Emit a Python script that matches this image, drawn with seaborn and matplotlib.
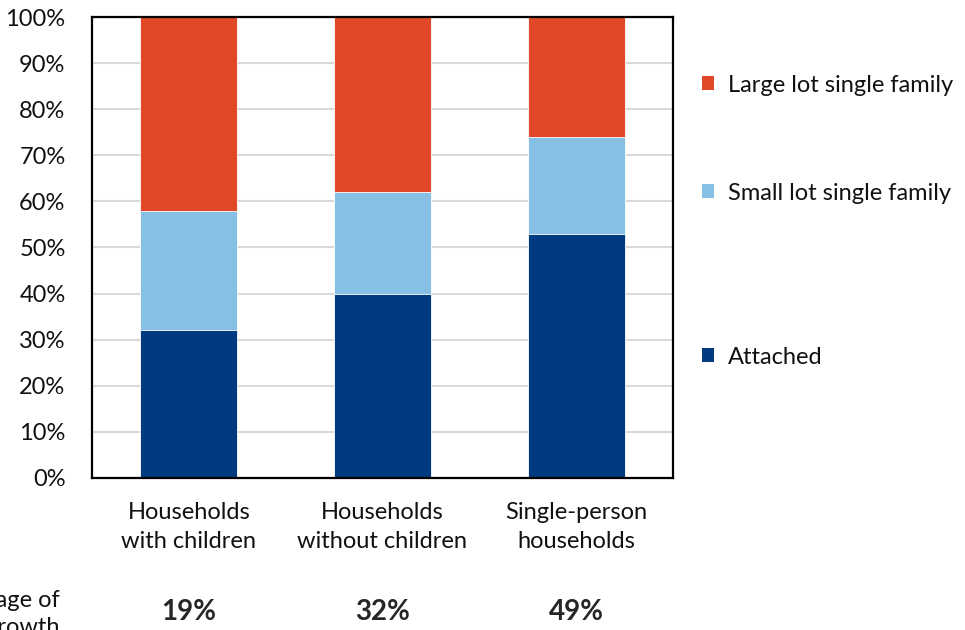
import matplotlib
matplotlib.use("Agg")
import matplotlib.pyplot as plt
from matplotlib.patches import Patch
import numpy as np
import pandas as pd
import seaborn as sns

# Household types and housing share (%) by type of home
categories = ["Households\nwith children", "Households\nwithout children", "Single-person\nhouseholds"]
attached = [32, 40, 53]
small_lot = [26, 22, 21]
large_lot = [42, 38, 26]
growth_share = ["19%", "32%", "49%"]
series_names = ["Large lot single family", "Small lot single family", "Attached"]

colors = {"Attached": "#003A80", "Small lot single family": "#86C0E4",
          "Large lot single family": "#E04828"}

sns.set_theme(style="white")
plt.rcParams["font.family"] = ["Lato", "DejaVu Sans"]

FS = 17

df = pd.DataFrame({
    "category": categories,
    "Attached": attached,
    "Small lot single family": small_lot,
    "Large lot single family": large_lot,
})
# cumulative tops so the layers stack when drawn back to front
df["top_small"] = df["Attached"] + df["Small lot single family"]
df["top_large"] = df["top_small"] + df["Large lot single family"]

fig = plt.figure(figsize=(9.65, 6.3), dpi=100)
ax = fig.add_axes([0.0953, 0.2413, 0.6021, 0.7317])

ax.yaxis.grid(True, color="#d9d9d9", linewidth=1.5, zorder=0)
ax.set_axisbelow(True)

for col, name in [("top_large", "Large lot single family"),
                  ("top_small", "Small lot single family"),
                  ("Attached", "Attached")]:
    sns.barplot(data=df, x="category", y=col, color=colors[name], width=0.5,
                saturation=1, edgecolor="white", linewidth=0.6, ax=ax, zorder=2)

ax.set_ylim(0, 100)
ax.set_xlim(-0.5, 2.5)
ax.set_yticks(np.arange(0, 101, 10))
ax.set_yticklabels([f"{v}%" for v in range(0, 101, 10)])
ax.set_xlabel("")
ax.set_ylabel("")
ax.tick_params(axis="both", length=0, labelsize=FS, labelcolor="#111111")
ax.tick_params(axis="y", pad=19)
ax.tick_params(axis="x", pad=17)
for t in ax.get_xticklabels():
    t.set_linespacing(1.5)
for s in ax.spines.values():
    s.set_visible(True)
    s.set_color("black")
    s.set_linewidth(1.6)

# legend entries placed individually at their own heights
legend_y = [85, 193, 357]
for name, ypix in zip(series_names, legend_y):
    lg = fig.legend(handles=[Patch(facecolor=colors[name], edgecolor="none")],
                    labels=[name], loc="center left",
                    bbox_to_anchor=(702 / 965, 1 - ypix / 630),
                    frameon=False, fontsize=FS, handlelength=0.5,
                    handleheight=0.5, handletextpad=0.6, borderaxespad=0,
                    borderpad=0)
    for t in lg.get_texts():
        t.set_color("#111111")

# share of growth under each group
for i, lab in enumerate(growth_share):
    xf = ax.transData.transform((i, 0))[0] / fig.bbox.width
    fig.text(xf, 1 - 612 / 630, lab, ha="center", va="center",
             fontsize=20, fontweight="bold", color="#262626")

fig.text(60 / 965, 1 - 614 / 630, "Percentage of\ngrowth", ha="right", va="center",
         fontsize=FS, color="#111111", linespacing=1.3, multialignment="right")

fig.savefig("out.png", dpi=100)
